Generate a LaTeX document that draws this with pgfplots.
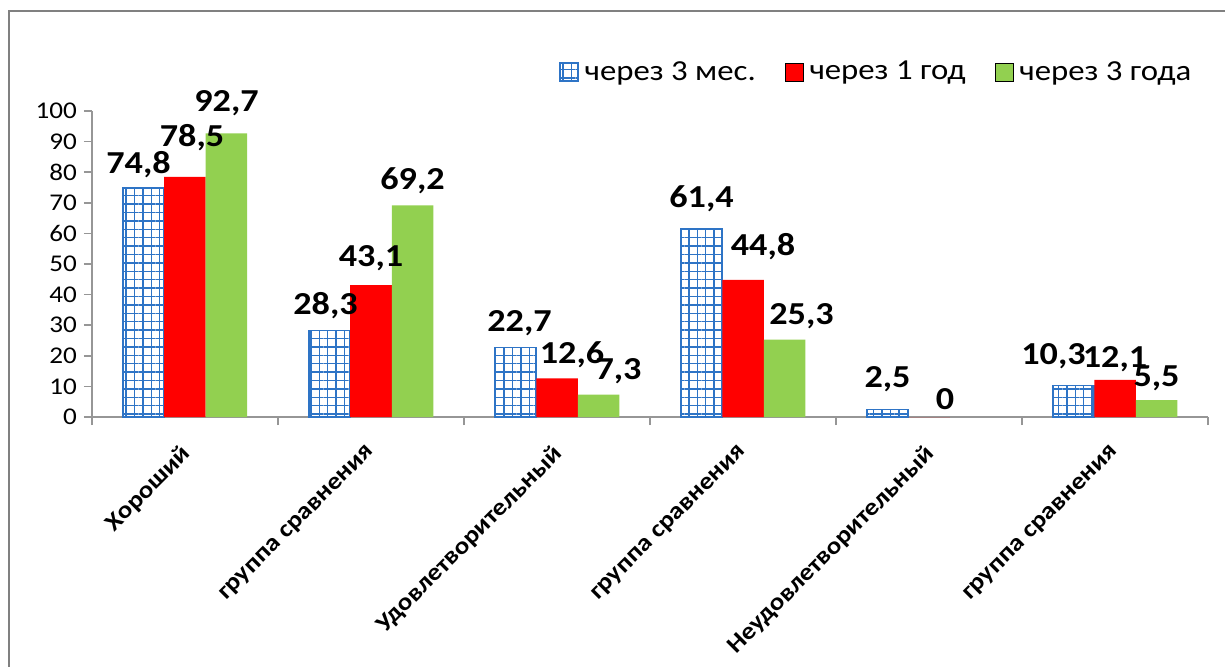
\documentclass[border=0pt]{standalone}
\usepackage{fontspec}
\setmainfont{Carlito}[FakeStretch=1.13]
\usepackage{pgfplots}
\usepackage{pgfplotstable}
\pgfplotsset{compat=1.18}
\usetikzlibrary{patterns.meta}

\definecolor{barblue}{RGB}{46,116,198}
\definecolor{bargreen}{RGB}{146,208,80}
\definecolor{axisgray}{RGB}{150,150,150}
\definecolor{framegray}{RGB}{128,128,128}

% x  value  label shift (pt)
\pgfplotstableread{
x y    dx   dy
0 74.8 -2.5 1.5
1 28.3 -2   2
2 22.7 2    2
3 61.4 0    5
4 2.5  0    5
5 10.3 -10  4.5
}\threemonths
\pgfplotstableread{
x y    dx   dy
0 78.5 3.5  9.5
1 43.1 0    3.5
2 12.6 7.5  2
3 44.8 10   6.5
4 0    8    0
5 12.1 0    0.5
}\oneyear
\pgfplotstableread{
x y    dx   dy
0 92.7 0    5
1 69.2 0    2
2 7.3  10   2
3 25.3 8.5  2
5 5.5  0    1
}\threeyears

\begin{document}
\begin{tikzpicture}
  % picture area: 1225x666 px at 0.5pt per px, axis origin at px (92,417)
  \path[use as bounding box] (-46pt,-124.5pt) rectangle (566.5pt,208.5pt);
  \clip (-46pt,-124.5pt) rectangle (566.5pt,208.5pt);
  \draw[framegray, line width=1pt] (-41.5pt,203pt) rectangle (700pt,-300pt);

  \begin{axis}[
      at={(0,0)}, anchor=south west,
      scale only axis, width=558pt, height=153pt,
      xmin=-0.5, xmax=5.5, ymin=0, ymax=100,
      clip=false,
      axis x line*=bottom, axis y line*=left,
      axis line style={axisgray, line width=0.75pt},
      ybar, bar width=20.75pt,
      xtick={0,...,5},
      xticklabels={Хороший, группа сравнения, Удовлетворительный,
                   группа сравнения, Неудовлетворительный, группа сравнения},
      minor xtick={-0.5,0.5,...,5.5},
      major x tick style={draw=none},
      minor x tick style={axisgray, line width=0.75pt},
      y tick style={axisgray, line width=0.75pt},
      major tick length=4pt, minor tick length=4pt,
      tick align=outside,
      ytick={0,10,...,100},
      xticklabel style={xshift=-2.5pt, yshift=-7.5pt, rotate=45, anchor=north east,
                        inner sep=1pt, font=\bfseries\fontsize{12}{12}\selectfont},
      yticklabel style={font=\fontsize{12}{12}\selectfont},
      /pgf/number format/assume math mode=true,
      /pgf/number format/use comma,
      nodes near coords,
      every node near coord/.append style={font=\bfseries\fontsize{16}{16}\selectfont,
                                           xshift=\dx pt, yshift=\dy pt},
      legend columns=3,
      legend style={at={(0.988,1.127)}, anchor=east, draw=none, fill=none,
                    font=\fontsize{14.5}{14.5}\selectfont, inner sep=0pt,
                    nodes={inner sep=1.5pt},
                    /tikz/every odd column/.append style={column sep=1.5pt},
                    /tikz/every even column/.append style={column sep=13pt}},
      legend image code/.code={\draw[#1] (0pt,-4.5pt) rectangle (9pt,4.5pt);},
  ]

  \addplot[draw=barblue, line width=0.8pt, pattern color=barblue,
           pattern={Hatch[angle=0, distance=4.2pt, line width=0.7pt]},
           bar shift=-20.75pt,
           visualization depends on={\thisrow{dx} \as \dx},
           visualization depends on={\thisrow{dy} \as \dy}]
      table[x=x, y=y] {\threemonths};
  \addlegendentry{через 3 мес.}

  \addplot[fill=red, draw=none, bar shift=0pt,
           visualization depends on={\thisrow{dx} \as \dx},
           visualization depends on={\thisrow{dy} \as \dy}]
      table[x=x, y=y] {\oneyear};
  \addlegendentry{через 1 год}

  \addplot[fill=bargreen, draw=none, bar shift=20.75pt,
           visualization depends on={\thisrow{dx} \as \dx},
           visualization depends on={\thisrow{dy} \as \dy}]
      table[x=x, y=y] {\threeyears};
  \addlegendentry{через 3 года}

  \end{axis}
\end{tikzpicture}
\end{document}
